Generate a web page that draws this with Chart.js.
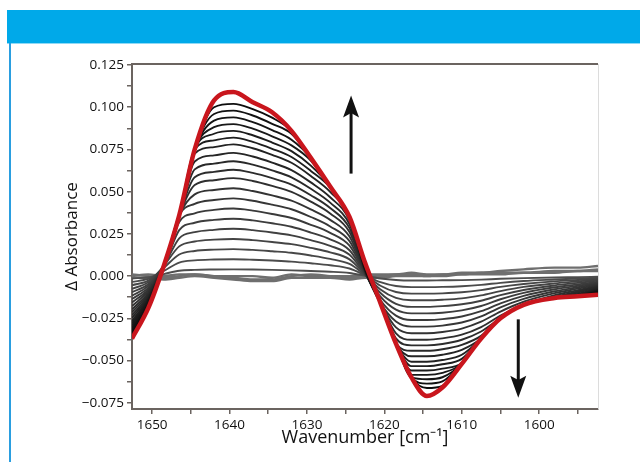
<!DOCTYPE html>
<html>
<head>
<meta charset="utf-8">
<script src="https://cdn.jsdelivr.net/npm/chart.js@4.4.1/dist/chart.umd.min.js"></script>
<style>
  body { margin: 0; background: #fff; }
  #band { position: absolute; left: 7px; top: 10px; width: 633px; height: 33px; background: #00a9e9; }
  #bandEdge { position: absolute; left: 7px; top: 43px; width: 633px; height: 1px; background: #8fd9f5; }
  #sideLine { position: absolute; left: 9px; top: 43px; width: 2px; height: 419px; background: #2a9ee0; }
  #chart { position: absolute; left: 0; top: 0; }
</style>
</head>
<body>
<div id="band"></div>
<div id="bandEdge"></div>
<div id="sideLine"></div>
<canvas id="chart" width="640" height="462"></canvas>
<script>
// Nombres d'onde (cm-1), axe inversé
const wavenumbers = [1652.6, 1650.5, 1648.5, 1646.5, 1644.5, 1642, 1639.5, 1637, 1634.5, 1632, 1629.5, 1627, 1624.5,
    1622.5, 1620.5, 1618.5, 1616.5, 1614.5, 1612.5, 1610, 1607.5, 1605, 1602, 1598, 1595, 1592.4];

// Spectres gris proches de zéro (début de la série)
const baselineSpectra = [
    [0.001, 0.000, -0.001, 0.000, 0.001, 0.000, -0.001, -0.002, -0.002, 0.000, 0.001, 0.000, -0.001, 0.000, 0.000, 0.001, 0.001, 0.000, 0.001, 0.001, 0.002, 0.002, 0.002, 0.003, 0.003, 0.004],
    [-0.001, -0.001, -0.002, -0.001, 0.000, -0.001, -0.002, -0.003, -0.003, -0.001, -0.001, -0.001, -0.002, -0.001, -0.001, 0.000, 0.000, 0.000, 0.000, 0.001, 0.001, 0.001, 0.002, 0.002, 0.003, 0.003],
    [0.000, 0.001, 0.000, 0.001, 0.001, 0.000, 0.000, 0.000, -0.001, 0.001, 0.000, 0.000, 0.000, 0.001, 0.001, 0.001, 0.002, 0.001, 0.001, 0.002, 0.002, 0.003, 0.004, 0.005, 0.005, 0.006]
];

// Spectres intermédiaires (noirs), du plus faible au plus fort
const blackSpectra = [
    [-0.0014, -0.0007, 0.0012, 0.0032, 0.0037, 0.0039, 0.004, 0.0039, 0.0037, 0.0034, 0.003, 0.0026, 0.0018, 0.0002, -0.0014, -0.0023, -0.0026, -0.0026, -0.0025, -0.0024, -0.0021, -0.0016, -0.0012, -0.0008, -0.0006, -0.0004],
    [-0.0034, -0.0017, 0.003, 0.008, 0.0093, 0.0098, 0.010, 0.0097, 0.0092, 0.0086, 0.0076, 0.0064, 0.0045, 0.0005, -0.0036, -0.0059, -0.0065, -0.0065, -0.0064, -0.006, -0.0052, -0.004, -0.0029, -0.002, -0.0014, -0.001],
    [-0.0054, -0.0027, 0.0048, 0.0128, 0.0149, 0.0157, 0.016, 0.0155, 0.0147, 0.0138, 0.0122, 0.0102, 0.0072, 0.0008, -0.0057, -0.0094, -0.0104, -0.0104, -0.0102, -0.0096, -0.0083, -0.0064, -0.0047, -0.0031, -0.0023, -0.0016],
    [-0.0075, -0.0037, 0.006, 0.0176, 0.0205, 0.0216, 0.022, 0.0213, 0.0202, 0.0189, 0.0167, 0.0141, 0.0099, 0.0011, -0.0079, -0.0129, -0.0143, -0.0143, -0.014, -0.0132, -0.0114, -0.0089, -0.0064, -0.0043, -0.0031, -0.0021],
    [-0.0095, -0.0048, 0.006, 0.0224, 0.026, 0.0274, 0.028, 0.0272, 0.0258, 0.0241, 0.0213, 0.0179, 0.0126, 0.0014, -0.01, -0.0164, -0.0182, -0.0182, -0.0178, -0.0167, -0.0146, -0.0113, -0.0082, -0.0055, -0.004, -0.0027],
    [-0.0116, -0.0058, 0.006, 0.0272, 0.0316, 0.0333, 0.034, 0.033, 0.0313, 0.0292, 0.0258, 0.0218, 0.0153, 0.0017, -0.0122, -0.0199, -0.0221, -0.0221, -0.0217, -0.0203, -0.0177, -0.0137, -0.0099, -0.0066, -0.0049, -0.0033],
    [-0.0136, -0.0068, 0.006, 0.032, 0.0372, 0.0392, 0.040, 0.0388, 0.0368, 0.0344, 0.0304, 0.0256, 0.018, 0.002, -0.0143, -0.0234, -0.026, -0.026, -0.0255, -0.0239, -0.0208, -0.0161, -0.0117, -0.0078, -0.0057, -0.0039],
    [-0.0156, -0.0078, 0.006, 0.036, 0.0428, 0.0451, 0.046, 0.0446, 0.0423, 0.0396, 0.035, 0.0294, 0.0207, 0.0023, -0.016, -0.0269, -0.0299, -0.0299, -0.0293, -0.0275, -0.0239, -0.0185, -0.0135, -0.009, -0.0066, -0.0045],
    [-0.0177, -0.0088, 0.006, 0.036, 0.0484, 0.051, 0.052, 0.0504, 0.0478, 0.0447, 0.0395, 0.0333, 0.0234, 0.0026, -0.016, -0.0304, -0.0338, -0.0338, -0.0331, -0.0311, -0.027, -0.021, -0.0152, -0.0101, -0.0074, -0.0051],
    [-0.0197, -0.0099, 0.006, 0.036, 0.0539, 0.0568, 0.058, 0.0563, 0.0534, 0.0499, 0.0441, 0.0371, 0.0261, 0.0029, -0.016, -0.0339, -0.0377, -0.0377, -0.0369, -0.0347, -0.0302, -0.0234, -0.017, -0.0113, -0.0083, -0.0057],
    [-0.0214, -0.0107, 0.006, 0.036, 0.0586, 0.0617, 0.063, 0.0611, 0.058, 0.0542, 0.0479, 0.0403, 0.0284, 0.0032, -0.016, -0.0369, -0.041, -0.041, -0.0402, -0.0377, -0.0328, -0.025, -0.017, -0.0123, -0.009, -0.0062],
    [-0.0231, -0.0116, 0.006, 0.036, 0.0632, 0.0666, 0.068, 0.066, 0.0626, 0.0585, 0.0517, 0.0435, 0.0306, 0.0034, -0.016, -0.0398, -0.0442, -0.0442, -0.0433, -0.0407, -0.0354, -0.025, -0.017, -0.013, -0.0097, -0.0066],
    [-0.0248, -0.0124, 0.006, 0.036, 0.0679, 0.0715, 0.073, 0.0708, 0.0672, 0.0628, 0.0555, 0.0467, 0.0329, 0.0037, -0.016, -0.040, -0.0475, -0.0475, -0.0466, -0.0437, -0.037, -0.025, -0.017, -0.013, -0.0105, -0.0071],
    [-0.0265, -0.0133, 0.006, 0.036, 0.0725, 0.0764, 0.078, 0.0757, 0.0718, 0.0671, 0.0593, 0.0499, 0.0351, 0.0039, -0.016, -0.040, -0.0507, -0.0507, -0.0497, -0.0466, -0.037, -0.025, -0.017, -0.013, -0.0112, -0.0076],
    [-0.0279, -0.0139, 0.006, 0.036, 0.075, 0.0804, 0.082, 0.0795, 0.0754, 0.0705, 0.0623, 0.0525, 0.035, 0.0041, -0.016, -0.040, -0.0533, -0.0533, -0.0522, -0.049, -0.037, -0.025, -0.017, -0.013, -0.0117, -0.008],
    [-0.0292, -0.0146, 0.006, 0.036, 0.075, 0.0843, 0.086, 0.0834, 0.0791, 0.074, 0.0654, 0.053, 0.035, 0.0043, -0.016, -0.040, -0.0559, -0.0559, -0.0548, -0.0514, -0.037, -0.025, -0.017, -0.013, -0.012, -0.0084],
    [-0.0306, -0.0153, 0.006, 0.036, 0.075, 0.0882, 0.090, 0.0873, 0.0828, 0.0774, 0.0684, 0.053, 0.035, 0.0045, -0.016, -0.040, -0.0585, -0.0585, -0.0573, -0.052, -0.037, -0.025, -0.017, -0.013, -0.012, -0.0088],
    [-0.032, -0.016, 0.006, 0.036, 0.075, 0.0921, 0.094, 0.0912, 0.0865, 0.0808, 0.070, 0.053, 0.035, 0.0047, -0.016, -0.040, -0.060, -0.0611, -0.0599, -0.052, -0.037, -0.025, -0.017, -0.013, -0.012, -0.0092],
    [-0.0333, -0.0167, 0.006, 0.036, 0.075, 0.096, 0.098, 0.0951, 0.0902, 0.0843, 0.070, 0.053, 0.035, 0.0049, -0.016, -0.040, -0.060, -0.0637, -0.0624, -0.052, -0.037, -0.025, -0.017, -0.013, -0.012, -0.0096],
    [-0.0347, -0.0173, 0.006, 0.036, 0.075, 0.100, 0.102, 0.0989, 0.0938, 0.086, 0.070, 0.053, 0.035, 0.0051, -0.016, -0.040, -0.060, -0.0663, -0.065, -0.052, -0.037, -0.025, -0.017, -0.013, -0.012, -0.0099]
];

// Spectre final (rouge)
const finalSpectrum = [-0.037, -0.019, 0.006, 0.036, 0.075, 0.104, 0.109, 0.103, 0.097, 0.086, 0.070, 0.053, 0.035,
    0.008, -0.016, -0.040, -0.060, -0.071, -0.066, -0.052, -0.037, -0.025, -0.017, -0.013, -0.012, -0.011];

// Graduations
const xTickValues = [1595, 1600, 1605, 1610, 1615, 1620, 1625, 1630, 1635, 1640, 1645, 1650];
const yTickValues = [-0.075, -0.0625, -0.05, -0.0375, -0.025, -0.0125, 0, 0.0125, 0.025, 0.0375, 0.05, 0.0625,
    0.075, 0.0875, 0.1, 0.1125, 0.125];

// Flèches (début -> pointe), en coordonnées de données
const arrowX = [1624.3, 1602.7];
const arrowFrom = [0.0607, -0.0256];
const arrowTo = [0.107, -0.072];

const toPoints = values => values.map((v, i) => ({ x: wavenumbers[i], y: v }));

const datasets = [];
baselineSpectra.forEach(row => {
    datasets.push({ data: toPoints(row), borderColor: '#6f6f6f', borderWidth: 2.4, order: 50 });
});
blackSpectra.forEach((row, i) => {
    const g = Math.round(78 - i * 3.4);
    datasets.push({ data: toPoints(row), borderColor: `rgb(${g},${g},${g})`, borderWidth: 1.9, order: 40 - i });
});
datasets.push({ data: toPoints(finalSpectrum), borderColor: '#c9161d', borderWidth: 4.5, order: 0 });

const axisColor = '#6b6460';

// Cadre supérieur/droit et flèches
const framePlugin = {
    id: 'frameAndArrows',
    afterDatasetsDraw(chart) {
        const { ctx, chartArea, scales: { x, y } } = chart;
        ctx.save();
        ctx.strokeStyle = '#dcdcdc';
        ctx.lineWidth = 1;
        ctx.beginPath();
        ctx.moveTo(chartArea.right + 0.5, chartArea.top);
        ctx.lineTo(chartArea.right + 0.5, chartArea.bottom);
        ctx.stroke();
        ctx.strokeStyle = axisColor;
        ctx.lineWidth = 2;
        ctx.beginPath();
        ctx.moveTo(chartArea.left, chartArea.top);
        ctx.lineTo(chartArea.right, chartArea.top);
        ctx.stroke();

        arrowX.forEach((wn, i) => {
            const px = x.getPixelForValue(wn);
            const y0 = y.getPixelForValue(arrowFrom[i]);
            const y1 = y.getPixelForValue(arrowTo[i]);
            const dir = y1 < y0 ? -1 : 1;
            const headLen = 22, halfW = 8;
            ctx.strokeStyle = '#111';
            ctx.fillStyle = '#111';
            ctx.lineWidth = 3;
            ctx.beginPath();
            ctx.moveTo(px, y0);
            ctx.lineTo(px, y1 - dir * headLen * 0.7);
            ctx.stroke();
            ctx.beginPath();
            ctx.moveTo(px, y1);
            ctx.lineTo(px - halfW, y1 - dir * headLen);
            ctx.lineTo(px, y1 - dir * headLen * 0.8);
            ctx.lineTo(px + halfW, y1 - dir * headLen);
            ctx.closePath();
            ctx.fill();
        });
        ctx.restore();
    }
};

const fmtY = v => {
    const k = v / 0.025;
    if (Math.abs(k - Math.round(k)) > 1e-6) return '';
    return (v < 0 ? '\u2212' : '') + Math.abs(v).toFixed(3);
};

new Chart(document.getElementById('chart').getContext('2d'), {
    type: 'line',
    data: { datasets: datasets },
    options: {
        responsive: false,
        animation: false,
        devicePixelRatio: 1,
        parsing: false,
        elements: {
            point: { radius: 0 },
            line: { cubicInterpolationMode: 'monotone', fill: false }
        },
        layout: { padding: { left: 0, top: 64, right: 42, bottom: 0 } },
        plugins: { legend: { display: false }, tooltip: { enabled: false } },
        scales: {
            x: {
                type: 'linear',
                reverse: true,
                min: 1592.4,
                max: 1652.6,
                afterBuildTicks: s => { s.ticks = xTickValues.map(v => ({ value: v })); },
                afterFit: s => { s.height = 53; },
                ticks: {
                    autoSkip: false,
                    maxRotation: 0,
                    padding: 3,
                    color: '#111',
                    font: { family: 'Open Sans', size: 13.5 },
                    callback: v => (v % 10 === 0 ? String(v) : '')
                },
                grid: { drawOnChartArea: false, tickLength: 5, color: axisColor, lineWidth: 1.5 },
                border: { color: axisColor, width: 2 },
                title: {
                    display: true,
                    text: 'Wavenumber [cm\u207B\u00B9]',
                    color: '#111',
                    font: { family: 'Open Sans', size: 18 },
                    padding: { top: 0, bottom: 13 }
                }
            },
            y: {
                type: 'linear',
                min: -0.0787,
                max: 0.1256,
                afterBuildTicks: s => { s.ticks = yTickValues.map(v => ({ value: v })); },
                afterFit: s => { s.width = 132; },
                ticks: {
                    autoSkip: false,
                    padding: 3,
                    color: '#111',
                    font: { family: 'Open Sans', size: 13.5 },
                    callback: v => fmtY(v)
                },
                grid: { drawOnChartArea: false, tickLength: 5, color: axisColor, lineWidth: 1.5 },
                border: { color: axisColor, width: 2 },
                title: {
                    display: true,
                    text: '\u0394 Absorbance',
                    color: '#111',
                    font: { family: 'Open Sans', size: 17 },
                    padding: { top: 62, bottom: 0 }
                }
            }
        }
    },
    plugins: [framePlugin]
});
</script>
</body>
</html>
